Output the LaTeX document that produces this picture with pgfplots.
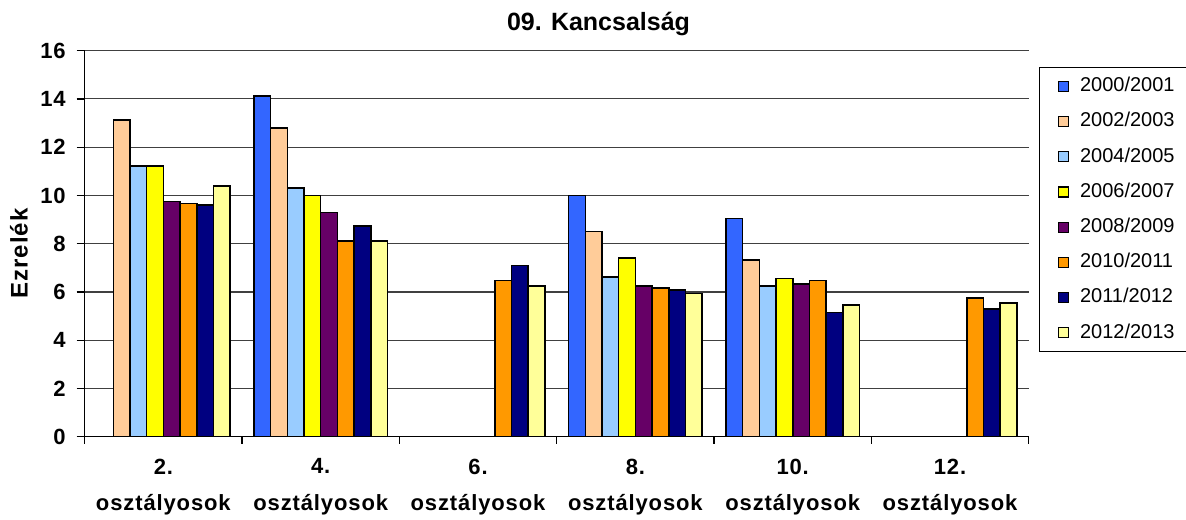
\documentclass[border=0pt]{standalone}
\usepackage{fontspec}
\setmainfont{Liberation Sans}
\newfontfamily\lsfont[LetterSpace=4]{Liberation Sans}
\usepackage{pgfplots}
\pgfplotsset{compat=1.18}
\definecolor{cA}{HTML}{3366FF}
\definecolor{cB}{HTML}{FFCC99}
\definecolor{cC}{HTML}{99CCFF}
\definecolor{cD}{HTML}{FFFF00}
\definecolor{cE}{HTML}{660066}
\definecolor{cF}{HTML}{FF9900}
\definecolor{cG}{HTML}{000080}
\definecolor{cH}{HTML}{FFFF99}
\begin{document}
\begin{tikzpicture}
\useasboundingbox (-42.35pt,-41.15pt) rectangle (550.65pt,218.35pt);
\begin{axis}[
  scale only axis, width=472pt, height=193pt,
  at={(0,0)}, anchor=south west,
  xmin=-0.5, xmax=5.5, ymin=0, ymax=16,
  ytick={0,2,...,16},
  axis x line*=bottom, axis y line*=left,
  axis line style={line width=0.6pt, -},
  ymajorgrids, grid style={line width=0.55pt, black!75},
  ybar=0pt, bar width=0.106,
  xtick={0,...,5},
  xticklabels={{2.\\osztályosok},{4.\\osztályosok},{6.\\osztályosok},{8.\\osztályosok},{10.\\osztályosok},{12.\\osztályosok}},
  minor xtick={-0.5,0.5,1.5,2.5,3.5,4.5,5.5},
  tick align=outside, major tick length=4pt, minor tick length=3.5pt,
  major x tick style={draw=none},
  tick style={line width=0.6pt, black},
  /pgf/number format/assume math mode=true,
  yticklabel style={font=\lsfont\bfseries\fontsize{11}{13}\selectfont, anchor=east, inner sep=0pt, xshift=-5.3pt},
  xticklabel style={font=\lsfont\bfseries\fontsize{11}{18.35}\selectfont, align=center, anchor=north, inner sep=0pt, yshift=-6.8pt},
  legend cell align=left,
  legend style={at={(1.0112,0.9585)}, anchor=north west, draw=black, line width=0.6pt,
    inner xsep=9pt, inner ysep=5pt, row sep=8.6pt,
    font=\fontsize{10}{12}\selectfont,
    nodes={inner sep=0pt, text height=7.2pt, text depth=1.8pt, anchor=west},
    /tikz/every odd column/.append style={column sep=5.5pt}},
  every axis plot post/.append style={draw=black, line width=0.8pt,
    legend image code/.code={\draw[##1, line width=0.6pt] (0pt,-2.5pt) rectangle (5pt,2.5pt);}},
]
\addplot[fill=cA] coordinates {(1,14.12) (3,10.0) (4,9.05)};
\addplot[fill=cB] coordinates {(0,13.12) (1,12.80) (3,8.51) (4,7.33)};
\addplot[fill=cC] coordinates {(0,11.23) (1,10.30) (3,6.63) (4,6.24)};
\addplot[fill=cD] coordinates {(0,11.23) (1,10.0) (3,7.40) (4,6.55)};
\addplot[fill=cE] coordinates {(0,9.75) (1,9.30) (3,6.24) (4,6.33)};
\addplot[fill=cF] coordinates {(0,9.67) (1,8.11) (2,6.48) (3,6.16) (4,6.48) (5,5.76)};
\addplot[fill=cG] coordinates {(0,9.60) (1,8.74) (2,7.09) (3,6.09) (4,5.14) (5,5.30)};
\addplot[fill=cH] coordinates {(0,10.39) (1,8.11) (2,6.24) (3,5.93) (4,5.46) (5,5.54)};
\legend{2000/2001,2002/2003,2004/2005,2006/2007,2008/2009,2010/2011,2011/2012,2012/2013}
\end{axis}
\node[font=\bfseries\fontsize{12.5}{15}\selectfont, anchor=base] at (256.9pt,203pt) {09. Kancsalság};
\node[font=\lsfont\bfseries\fontsize{12}{14}\selectfont, rotate=90, anchor=base] at (-28.5pt,91.7pt) {Ezrelék};
\end{tikzpicture}
\end{document}
